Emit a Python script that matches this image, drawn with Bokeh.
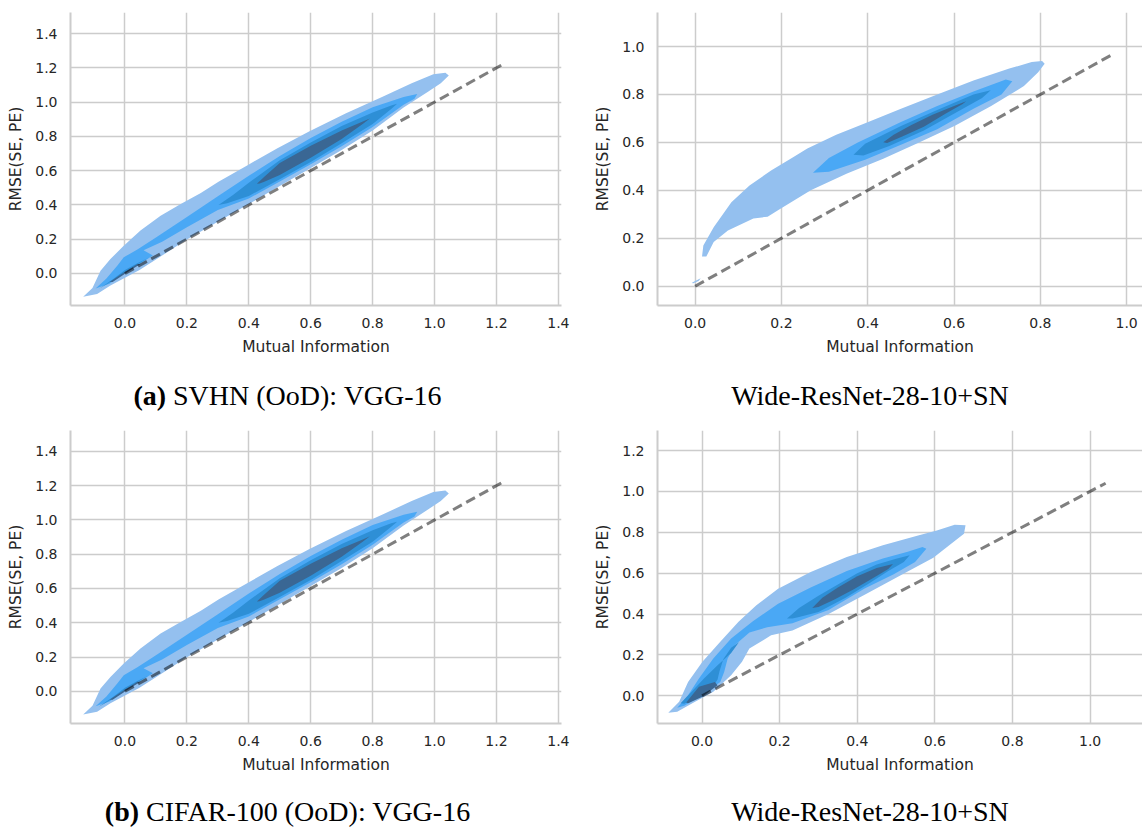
from bokeh.plotting import figure
from bokeh.models import Range1d, FixedTicker, Div, PrintfTickFormatter
from bokeh.layouts import column, row
from bokeh.embed import file_html
from bokeh.resources import INLINE

# ---------------- data ----------------
X_LABEL = "Mutual Information"
Y_LABEL = "RMSE(SE, PE)"

ticks_0_14 = [0.0, 0.2, 0.4, 0.6, 0.8, 1.0, 1.2, 1.4]
ticks_0_12 = [0.0, 0.2, 0.4, 0.6, 0.8, 1.0, 1.2]
ticks_0_10 = [0.0, 0.2, 0.4, 0.6, 0.8, 1.0]

caption_a = "<b>(a)</b> SVHN (OoD): VGG-16"
caption_a_right = "Wide-ResNet-28-10+SN"
caption_b = "<b>(b)</b> CIFAR-100 (OoD): VGG-16"
caption_b_right = "Wide-ResNet-28-10+SN"

# diagonal reference line (y = x) extents
svhn_vgg_diag = [0.0, 1.22]
svhn_wrn_diag = [0.0, 0.97]
cifar_vgg_diag = [0.0, 1.22]
cifar_wrn_diag = [0.0, 1.04]

# KDE contour outlines (x, y), outer level 1 -> inner level 4
svhn_vgg_l1 = [(-0.135, -0.136), (-0.105, -0.085), (-0.079, 0.016), (-0.047, 0.084), (-0.004, 0.162),
               (0.05, 0.25), (0.115, 0.337), (0.18, 0.405), (0.245, 0.47), (0.302, 0.535), (0.396, 0.632),
               (0.491, 0.73), (0.596, 0.83), (0.714, 0.935), (0.832, 1.032), (0.926, 1.11), (0.996, 1.163),
               (1.035, 1.172), (1.046, 1.155), (1.02, 1.11), (0.98, 1.062), (0.9, 0.968), (0.8, 0.835),
               (0.7, 0.72), (0.6, 0.615), (0.5, 0.51), (0.4, 0.405), (0.3, 0.302), (0.2, 0.198),
               (0.11, 0.093), (0.047, 0.02), (-0.047, -0.07), (-0.09, -0.12)]
svhn_vgg_l2 = [(-0.095, -0.088), (-0.06, -0.03), (-0.025, 0.045), (-0.004, 0.094), (0.04, 0.14), (0.1, 0.21),
               (0.2, 0.33), (0.3, 0.45), (0.4, 0.57), (0.5, 0.685), (0.6, 0.79), (0.7, 0.885), (0.8, 0.97),
               (0.9, 1.03), (0.944, 1.048), (0.935, 1.02), (0.9, 0.985), (0.8, 0.855), (0.7, 0.742),
               (0.6, 0.637), (0.5, 0.537), (0.4, 0.437), (0.3, 0.37), (0.2, 0.27), (0.12, 0.185),
               (0.06, 0.135), (0.09, 0.105), (0.06, 0.07), (0.0, 0.005), (-0.05, -0.06)]
svhn_vgg_l3 = [(0.302, 0.4), (0.35, 0.46), (0.4, 0.53), (0.5, 0.66), (0.6, 0.765), (0.7, 0.86), (0.8, 0.94),
               (0.86, 0.98), (0.879, 0.99), (0.86, 0.96), (0.8, 0.872), (0.7, 0.76), (0.6, 0.65), (0.5, 0.55),
               (0.4, 0.452), (0.33, 0.41)]
svhn_vgg_l3b = [(-0.085, -0.09), (-0.04, -0.035), (0.0, 0.02), (0.04, 0.06), (0.08, 0.095), (0.075, 0.09),
                (0.03, 0.042), (-0.02, -0.02), (-0.07, -0.075)]
svhn_vgg_l4 = [(0.426, 0.524), (0.45, 0.565), (0.5, 0.645), (0.6, 0.745), (0.7, 0.835), (0.77, 0.888),
               (0.791, 0.905), (0.77, 0.875), (0.7, 0.785), (0.6, 0.675), (0.5, 0.575), (0.45, 0.535),
               (0.435, 0.525)]
svhn_vgg_l4b = [(-0.05, -0.05), (0.0, 0.01), (0.04, 0.055), (0.05, 0.055), (0.01, 0.01), (-0.04, -0.05)]

svhn_wrn_l1 = [(0.016, 0.124), (0.019, 0.17), (0.043, 0.246), (0.084, 0.35), (0.126, 0.42), (0.176, 0.483),
               (0.227, 0.538), (0.26, 0.575), (0.327, 0.632), (0.394, 0.68), (0.477, 0.74), (0.561, 0.8),
               (0.645, 0.858), (0.728, 0.908), (0.78, 0.935), (0.804, 0.94), (0.81, 0.928), (0.795, 0.893),
               (0.762, 0.835), (0.686, 0.752), (0.602, 0.67), (0.519, 0.6), (0.436, 0.532), (0.352, 0.47),
               (0.268, 0.4), (0.193, 0.318), (0.168, 0.29), (0.135, 0.283), (0.076, 0.232), (0.043, 0.184),
               (0.026, 0.124)]
svhn_wrn_l1b = [(-0.008, 0.013), (0.0, 0.022), (0.013, 0.033), (0.008, 0.022), (-0.004, 0.012)]
svhn_wrn_l2 = [(0.273, 0.473), (0.31, 0.535), (0.377, 0.6), (0.477, 0.685), (0.561, 0.752), (0.645, 0.812),
               (0.72, 0.862), (0.735, 0.855), (0.71, 0.8), (0.645, 0.74), (0.561, 0.655), (0.477, 0.59),
               (0.394, 0.528), (0.31, 0.478)]
svhn_wrn_l3 = [(0.367, 0.549), (0.394, 0.594), (0.477, 0.668), (0.561, 0.735), (0.645, 0.8), (0.685, 0.818),
               (0.665, 0.785), (0.61, 0.73), (0.53, 0.65), (0.45, 0.585), (0.39, 0.545)]
svhn_wrn_l4 = [(0.436, 0.601), (0.46, 0.632), (0.5, 0.672), (0.55, 0.715), (0.6, 0.752), (0.628, 0.772),
               (0.62, 0.76), (0.58, 0.72), (0.53, 0.665), (0.48, 0.625), (0.445, 0.598)]

cifar_vgg_l1 = list(svhn_vgg_l1)
cifar_vgg_l2 = list(svhn_vgg_l2)
cifar_vgg_l3 = list(svhn_vgg_l3)
cifar_vgg_l3b = list(svhn_vgg_l3b)
cifar_vgg_l4 = list(svhn_vgg_l4)
cifar_vgg_l4b = list(svhn_vgg_l4b)

cifar_wrn_l1 = [(-0.087, -0.083), (-0.059, -0.029), (-0.036, 0.068), (0.001, 0.166), (0.047, 0.264),
                (0.094, 0.362), (0.14, 0.443), (0.196, 0.524), (0.28, 0.606), (0.373, 0.679), (0.466, 0.736),
                (0.559, 0.785), (0.605, 0.809), (0.651, 0.837), (0.679, 0.834), (0.675, 0.793), (0.642, 0.744),
                (0.596, 0.675), (0.512, 0.59), (0.419, 0.495), (0.326, 0.4), (0.233, 0.32), (0.178, 0.296),
                (0.122, 0.231), (0.103, 0.166), (0.075, 0.101), (0.029, 0.02), (-0.018, -0.029),
                (-0.064, -0.078)]
cifar_wrn_l2 = [(-0.064, -0.059), (-0.036, 0.003), (-0.008, 0.085), (0.029, 0.182), (0.075, 0.28),
                (0.131, 0.365), (0.196, 0.45), (0.28, 0.53), (0.373, 0.61), (0.466, 0.672), (0.53, 0.705),
                (0.568, 0.728), (0.578, 0.72), (0.549, 0.655), (0.494, 0.595), (0.419, 0.525), (0.326, 0.42),
                (0.233, 0.355), (0.168, 0.335), (0.122, 0.31), (0.085, 0.248), (0.066, 0.182), (0.057, 0.117),
                (0.047, 0.068), (0.001, 0.003), (-0.046, -0.049)]
cifar_wrn_l3 = [(0.219, 0.378), (0.25, 0.43), (0.3, 0.49), (0.35, 0.545), (0.4, 0.6), (0.45, 0.643),
                (0.5, 0.67), (0.535, 0.688), (0.52, 0.655), (0.48, 0.61), (0.43, 0.55), (0.37, 0.48),
                (0.3, 0.41), (0.25, 0.385), (0.233, 0.378)]
cifar_wrn_l3b = [(-0.055, -0.037), (-0.027, 0.02), (0.005, 0.085), (0.04, 0.15), (0.075, 0.21), (0.095, 0.262),
                 (0.075, 0.235), (0.055, 0.18), (0.045, 0.12), (0.04, 0.08), (0.03, 0.05), (-0.008, -0.005),
                 (-0.046, -0.039)]
cifar_wrn_l4 = [(0.284, 0.43), (0.31, 0.48), (0.35, 0.53), (0.4, 0.585), (0.45, 0.625), (0.492, 0.645),
                (0.48, 0.62), (0.44, 0.575), (0.39, 0.52), (0.34, 0.47), (0.3, 0.435)]
cifar_wrn_l4b = [(-0.041, -0.033), (-0.008, 0.044), (0.033, 0.068), (0.04, 0.052), (0.001, -0.005),
                 (-0.036, -0.037)]

# ---------------- styling ----------------
LEVEL_COLORS = ["#94c0ef", "#4aa8f5", "#2e8fd6", "#3a6794"]
GRID = "#cccccc"
TEXT = "#262626"


def make_panel(levels, diag, xr, yr, xticks, yticks, width, left, right):
    p = figure(width=width, height=360, x_range=Range1d(*xr), y_range=Range1d(*yr),
               output_backend="svg", toolbar_location=None,
               min_border_left=left, min_border_right=right, min_border_top=12, min_border_bottom=55)
    p.outline_line_color = None
    p.background_fill_color = "white"
    p.border_fill_color = "white"
    for polys, color in zip(levels, LEVEL_COLORS):
        for poly in polys:
            p.patch([pt[0] for pt in poly], [pt[1] for pt in poly],
                    fill_color=color, line_color=None)
    p.line(diag, diag, line_color="black", line_alpha=0.5, line_width=3, line_dash="10 5")

    p.xaxis.ticker = FixedTicker(ticks=xticks)
    p.yaxis.ticker = FixedTicker(ticks=yticks)
    for ax in (p.xaxis, p.yaxis):
        ax.formatter = PrintfTickFormatter(format="%.1f")
        ax.major_tick_line_color = None
        ax.minor_tick_line_color = None
        ax.major_tick_in = 0
        ax.major_tick_out = 0
        ax.minor_tick_in = 0
        ax.minor_tick_out = 0
        ax.axis_line_color = GRID
        ax.axis_line_width = 2
        ax.major_label_text_font = "DejaVu Sans"
        ax.major_label_text_font_size = "14px"
        ax.major_label_text_color = TEXT
        ax.axis_label_text_font = "DejaVu Sans"
        ax.axis_label_text_font_size = "15.5px"
        ax.axis_label_text_font_style = "normal"
        ax.axis_label_text_color = TEXT
        ax.axis_label_standoff = 7
    p.xaxis.major_label_standoff = 12
    p.yaxis.major_label_standoff = 13
    p.xaxis.axis_label = X_LABEL
    p.yaxis.axis_label = Y_LABEL
    for g in (p.xgrid, p.ygrid):
        g.grid_line_color = GRID
        g.grid_line_width = 1.5
    return p


def caption(html, width, height, box_width, pad):
    return Div(text=('<div style="width:%dpx;text-align:center;font-family:\'Liberation Serif\';'
                     'font-size:28px;line-height:1.15;padding-top:%dpx;color:#000;white-space:nowrap;">%s</div>')
                    % (box_width, pad, html), width=width, height=height, margin=0)


p1 = make_panel([[svhn_vgg_l1], [svhn_vgg_l2], [svhn_vgg_l3, svhn_vgg_l3b], [svhn_vgg_l4, svhn_vgg_l4b]],
                svhn_vgg_diag, (-0.176, 1.41), (-0.187, 1.523), ticks_0_14, ticks_0_14, 591, 70, 30)
p2 = make_panel([[svhn_wrn_l1, svhn_wrn_l1b], [svhn_wrn_l2], [svhn_wrn_l3], [svhn_wrn_l4]],
                svhn_wrn_diag, (-0.0872, 1.0367), (-0.0805, 1.142), ticks_0_10, ticks_0_10, 551, 61, 0)
p3 = make_panel([[cifar_vgg_l1], [cifar_vgg_l2], [cifar_vgg_l3, cifar_vgg_l3b], [cifar_vgg_l4, cifar_vgg_l4b]],
                cifar_vgg_diag, (-0.176, 1.41), (-0.188, 1.522), ticks_0_14, ticks_0_14, 591, 70, 30)
p4 = make_panel([[cifar_wrn_l1], [cifar_wrn_l2], [cifar_wrn_l3, cifar_wrn_l3b], [cifar_wrn_l4, cifar_wrn_l4b]],
                cifar_wrn_diag, (-0.1148, 1.135), (-0.1355, 1.298), ticks_0_10, ticks_0_12, 551, 61, 0)

for p in (p1, p2, p3, p4):
    p.margin = 0

d1 = caption(caption_a, 591, 58, 575, 20)
d2 = caption(caption_a_right, 551, 58, 558, 20)
d3 = caption(caption_b, 591, 51, 575, 18)
d4 = caption(caption_b_right, 551, 51, 558, 18)

layout = column(row(p1, p2, spacing=0), row(d1, d2, spacing=0), row(p3, p4, spacing=0), row(d3, d4, spacing=0),
                spacing=0)

open("out.html", "w").write(file_html(layout, INLINE))
